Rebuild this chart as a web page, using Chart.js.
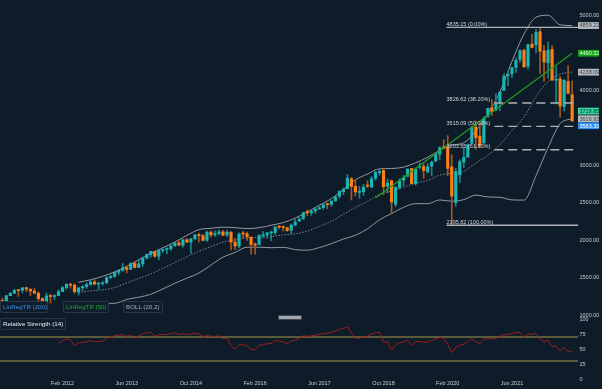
<!DOCTYPE html>
<html><head><meta charset="utf-8">
<script src="https://cdn.jsdelivr.net/npm/chart.js@4/dist/chart.umd.min.js"></script>
<style>
html,body{margin:0;padding:0;background:#0e1c2a;width:602px;height:389px;overflow:hidden;}
#wrap{position:relative;width:602px;height:389px;font-family:"Liberation Sans",Arial,sans-serif;}
canvas{position:absolute;left:0;top:0;}
.lg{position:absolute;box-sizing:border-box;height:12px;line-height:10px;font-size:6.2px;padding-left:2px;border:1px solid #26374a;border-radius:2px;background:#0f1e2d;white-space:nowrap;}
#thumb{position:absolute;left:278px;top:315px;width:22px;height:3px;background:#a3a8ad;border:1px solid #3b4654;box-sizing:content-box;}
</style></head><body>
<div id="wrap">
<canvas id="c" width="602" height="389"></canvas>
<div class="lg" style="left:0;top:301px;width:48px;color:#3a8fe2;">LinRegTR (200)</div>
<div class="lg" style="left:63px;top:301px;width:46px;color:#2aa22a;">LinRegTR (50)</div>
<div class="lg" style="left:123px;top:301px;width:40px;color:#aab0b5;">BOLL (20,2)</div>
<div class="lg" style="left:0;top:318px;width:66px;color:#e9ecef;">Relative Strength (14)</div>
<div id="thumb"></div>
</div>
<script>
// ---- monthly candles, Nov 2010 .. Sep 2022 (index 0..142) ----
const opens = [1185.7,1186.6,1257.6,1289.1,1328.6,1329.5,1365.2,1345.2,1320.6,1292.6,1219.1,1131.2,1251.0,1246.9,1258.9,1312.5,1365.9,1408.5,1397.9,1309.9,
1362.3,1379.3,1406.5,1440.9,1412.2,1416.3,1426.2,1498.1,1514.7,1569.2,1597.6,1631.7,1609.8,1689.4,1635.9,1682.4,1758.7,1806.6,1845.9,1782.7,
1857.7,1873.9,1884.4,1923.9,1962.3,1929.8,2004.1,1971.4,2018.2,2065.8,2058.9,1996.7,2105.2,2067.6,2087.4,2108.6,2067.0,2104.5,1970.1,1919.7,
2080.8,2082.9,2038.2,1936.9,1937.1,2056.6,2067.2,2093.9,2099.3,2173.2,2171.3,2164.3,2128.7,2200.2,2251.6,2285.6,2380.1,2362.3,2388.5,2415.6,
2431.4,2477.1,2474.4,2521.2,2583.2,2645.1,2683.7,2816.5,2715.2,2633.5,2642.9,2718.7,2704.9,2821.2,2896.9,2926.3,2717.6,2790.5,2476.9,2702.3,
2798.2,2848.6,2952.3,2751.5,2971.4,2980.3,2909.0,2983.7,3050.7,3143.9,3244.7,3235.7,2974.3,2498.1,2869.1,3038.8,3105.9,3288.3,3507.4,3385.9,
3296.2,3645.9,3764.6,3731.2,3842.5,3992.8,4191.9,4216.5,4300.7,4406.9,4528.8,4317.2,4610.6,4602.8,4778.1,4519.6,4363.1,4540.3,4130.6,4149.8,
3781.0,4112.4,3936.7];
const highs = [1227.1,1262.6,1302.7,1344.1,1332.3,1364.6,1370.6,1345.2,1356.5,1307.4,1229.3,1292.7,1277.6,1269.4,1333.5,1378.0,1419.2,1422.4,1415.3,1363.5,
1391.7,1426.7,1474.5,1470.9,1434.3,1448.0,1509.9,1530.9,1570.3,1597.6,1687.2,1654.2,1698.8,1709.7,1730.0,1775.2,1813.6,1849.4,1850.8,1867.9,
1883.9,1897.3,1924.0,1968.2,1991.4,2005.0,2019.3,2018.2,2075.8,2093.6,2072.4,2119.6,2117.5,2125.9,2134.7,2129.9,2132.8,2112.7,2021.0,2094.3,
2116.5,2104.3,2038.2,1962.9,2072.2,2111.1,2099.1,2120.6,2177.1,2193.8,2187.9,2169.6,2214.1,2277.5,2300.9,2371.5,2401.0,2398.2,2418.7,2453.8,
2484.0,2490.9,2519.4,2582.0,2657.7,2694.9,2872.9,2835.9,2801.9,2717.5,2742.2,2791.5,2848.0,2916.5,2940.9,2939.9,2815.2,2800.2,2708.9,2813.5,
2860.3,2949.5,2954.1,2964.2,3027.9,3013.6,3021.9,3050.1,3154.3,3247.9,3337.8,3393.5,3136.7,2954.9,3068.7,3233.1,3280.0,3514.8,3588.1,3549.9,
3645.9,3760.2,3870.9,3950.4,3983.9,4218.8,4238.0,4302.4,4429.9,4537.4,4545.9,4608.1,4743.8,4808.9,4835.2,4595.3,4637.3,4593.5,4307.7,4177.5,
4140.2,4325.3,4119.3];
const lows = [1173.0,1186.6,1257.6,1289.1,1249.1,1294.7,1311.8,1258.1,1282.9,1101.5,1114.2,1074.8,1158.7,1202.4,1258.9,1312.5,1340.0,1357.4,1291.0,1266.7,
1325.4,1354.7,1396.6,1403.3,1343.4,1398.1,1426.2,1485.0,1501.5,1536.0,1581.3,1560.3,1604.6,1627.5,1633.4,1646.5,1746.2,1767.9,1770.4,1737.9,
1834.4,1814.4,1859.8,1915.0,1930.7,1904.8,1964.0,1820.7,2001.0,1972.6,1988.1,1980.9,2039.7,2048.4,2067.9,2056.3,2044.0,1867.0,1871.9,1893.7,
2019.4,1993.3,1812.3,1810.1,1937.1,2033.8,2025.9,1991.7,2074.0,2147.6,2119.1,2114.7,2083.8,2187.4,2245.1,2271.7,2322.3,2328.9,2352.7,2405.7,
2407.7,2417.4,2446.6,2520.4,2557.5,2605.5,2682.4,2532.7,2585.9,2553.8,2594.6,2698.7,2698.9,2796.3,2864.1,2603.5,2631.1,2346.6,2443.9,2681.8,
2722.3,2848.6,2750.5,2728.8,2952.2,2822.1,2891.9,2855.9,3050.7,3070.3,3214.6,2855.8,2195.8,2447.5,2766.6,2965.7,3101.2,3284.5,3209.5,3233.9,
3279.7,3633.4,3662.7,3725.6,3723.3,3992.8,4056.9,4164.4,4233.1,4367.7,4305.9,4278.9,4560.0,4495.1,4222.6,4114.7,4157.9,4124.3,3810.3,3636.9,
3721.6,3954.5,3584.1];
const closes = [1180.6,1257.6,1286.1,1327.2,1325.8,1363.6,1345.2,1320.6,1292.3,1218.9,1131.4,1253.3,1247.0,1257.6,1312.4,1365.7,1408.5,1397.9,1310.3,1362.2,
1379.3,1406.6,1440.7,1412.2,1416.2,1426.2,1498.1,1514.7,1569.2,1597.6,1630.7,1606.3,1685.7,1633.0,1681.6,1756.5,1805.8,1848.4,1782.6,1859.5,
1872.3,1883.9,1923.6,1960.2,1930.7,2003.4,1972.3,2018.1,2067.6,2058.9,1995.0,2104.5,2067.9,2085.5,2107.4,2063.1,2103.8,1972.2,1920.0,2079.4,
2080.4,2043.9,1940.2,1932.2,2059.7,2065.3,2096.9,2098.9,2173.6,2170.9,2168.3,2126.2,2198.8,2238.8,2278.9,2363.6,2362.7,2384.2,2411.8,2423.4,
2470.3,2471.7,2519.4,2575.3,2647.6,2673.6,2823.8,2713.8,2640.9,2648.1,2705.3,2718.4,2816.3,2901.5,2913.9,2711.7,2760.2,2506.9,2704.1,2784.5,
2834.4,2945.8,2752.1,2941.8,2980.4,2926.5,2976.7,3037.6,3141.0,3230.8,3225.5,2954.2,2584.6,2912.4,3044.3,3100.3,3271.1,3500.3,3363.0,3269.9,
3621.6,3756.1,3714.2,3811.2,3972.9,4181.2,4204.1,4297.5,4395.3,4522.7,4307.5,4605.4,4567.0,4766.2,4515.6,4373.9,4530.4,4131.9,4132.2,3785.4,
4130.3,3955.0,3585.6];

const xTickIdx = [15,31,47,63,79,95,111,127];
const xTickLabels = ['Feb 2012','Jun 2013','Oct 2014','Feb 2016','Jun 2017','Oct 2018','Feb 2020','Jun 2021'];
const priceTicks = [1000,1500,2000,2500,3000,3500,4000,5000];
const rsiTicks = [0,25,50,75,100];

// Bollinger (20,2), read at every third month
const bollIdx = [19,22,25,28,31,34,37,40,43,46,49,52,55,58,61,64,67,70,73,76,79,82,85,88,91,94,97,100,103,106,109,112,115,118,121,124,127,130,133,136,139,142];
const bollUpper = [1436,1469,1515,1576,1648,1737,1822,1897,1973,2061,2139,2156,2171,2164,2152,2164,2197,2232,2292,2374,2463,2551,2673,2803,2879,2949,2953,2972,3029,3104,3196,3265,3296,3452,3686,3973,4381,4746,4970,4997,4869,4859.22];
const bollMiddle = [1298,1323,1335,1366,1428,1487,1549,1622,1698,1776,1849,1911,1971,1999,2028,2034,2047,2067,2082,2119,2181,2251,2343,2433,2514,2609,2653,2704,2757,2794,2865,2891,2917,3025,3130,3271,3458,3639,3914,4114,4210,4238.09];
const bollLower = [1160,1177,1155,1156,1208,1237,1276,1347,1423,1491,1559,1666,1771,1834,1904,1904,1897,1902,1872,1864,1899,1951,2013,2063,2149,2269,2353,2436,2485,2484,2534,2517,2538,2598,2574,2569,2535,2532,2858,3231,3551,3616.95];

// RSI(14) from month index 14
const rsiFirstIdx = 14;
const rsiValues = [60,64,67,65,56,60,61,62,64,62,
62,63,68,70,72,73,74,71,73,68,
72,75,77,78,71,74,74,74,76,77,
74,76,74,75,76,75,70,73,71,71,
72,67,68,55,50,57,57,55,49,49,
56,57,59,59,64,63,62,59,63,65,
68,72,71,72,73,74,76,76,78,80,
83,84,87,77,68,68,70,71,75,77,
78,61,62,48,57,60,62,65,56,62,
63,61,62,64,67,69,68,58,44,53,
56,58,62,67,62,59,66,68,66,68,
71,74,74,76,77,78,70,75,74,76,
66,62,64,54,55,47,53,45,47];
const rsiLevels = [70,30];

// LinRegTR(50)
const linRegIdx = [93,142];
const linRegValues = [2560,4490.32];

// Fibonacci retracement
const fibLevels = [4835.15,3826.62,3515.09,3203.55,2195.82];
const fibNames = ['4835.15 (0.00%)','3826.62 (38.20%)','3515.09 (50.00%)','3203.55 (61.80%)','2195.82 (100.00%)'];
const fibStartIdx = [110.7,122.6,122.6,122.6,110.7];
const fibDashed = [false,true,true,true,false];

// right-edge value tags
const tagValues = [4859.22,4490.32,4238.09,3718.85,3616.95,3583.30];

// ------------------------------------------------------------
const FONT = '"Liberation Sans", Arial, sans-serif';
const X_MIN = -0.573, X_MAX = 143.46;
const UP = '#1db4b4', DOWN = '#ff7f14', UPW = '#15868b', DOWNW = '#a4571f';
const tagStyle = [
  ['#b6b9bd','#40464c'],['#16a116','#e8ffe8'],['#b6b9bd','#40464c'],
  ['#36d6a0','#0d3527'],['#b6b9bd','#40464c'],['#2e8ff2','#ffffff']
];

const idx = opens.map((_, i) => i);
const isUp = i => closes[i] >= opens[i];

const datasets = [];
// wicks
datasets.push({type:'bar', yAxisID:'y', grouped:false, order:5, barThickness:1, borderWidth:0,
  data: idx.map(i => ({x:i, y:[lows[i], highs[i]]})),
  backgroundColor: c => isUp(c.dataIndex) ? UPW : DOWNW});
// bodies
datasets.push({type:'bar', yAxisID:'y', grouped:false, order:4, barThickness:2.5, borderWidth:0, minBarLength:1,
  data: idx.map(i => ({x:i, y:[opens[i], closes[i]]})),
  backgroundColor: c => isUp(c.dataIndex) ? UP : DOWN});
// bollinger
const bollLine = (vals, color, dash) => ({type:'line', yAxisID:'y', order:6, borderColor:color, borderWidth:1,
  borderDash:dash, pointRadius:0, cubicInterpolationMode:'monotone', fill:false,
  data: bollIdx.map((x, k) => ({x, y: vals[k]}))});
datasets.push(bollLine(bollUpper, '#9399a0', []));
datasets.push(bollLine(bollLower, '#9399a0', []));
datasets.push(bollLine(bollMiddle, '#7f868d', [1.5,1.5]));
// linreg 50
datasets.push({type:'line', yAxisID:'y', order:2, borderColor:'#1f9f1f', borderWidth:1.2, pointRadius:0,
  data: linRegIdx.map((x,k)=>({x, y: linRegValues[k]}))});
// fib lines
fibLevels.forEach((lv,k) => datasets.push({type:'line', yAxisID:'y', order:1, borderColor:'#aeb2b7',
  borderWidth:1.4, borderDash: fibDashed[k] ? [9,5] : [], pointRadius:0,
  data:[{x:fibStartIdx[k], y:lv},{x:X_MAX, y:lv}]}));
// RSI levels
rsiLevels.forEach(lv => datasets.push({type:'line', yAxisID:'yr', order:3, borderColor:'#77713f',
  borderWidth:1.3, pointRadius:0, data:[{x:X_MIN,y:lv},{x:X_MAX,y:lv}]}));
// RSI line
datasets.push({type:'line', yAxisID:'yr', order:1, borderColor:'#9d1d1d', borderWidth:1, pointRadius:0,
  data: rsiValues.map((v,k)=>({x: rsiFirstIdx + k, y: v}))});

const overlay = {
  id:'overlay',
  afterDatasetsDraw(chart){
    const {ctx, scales:{x, y}} = chart;
    ctx.save();
    ctx.font = '5.5px ' + FONT;
    ctx.textAlign = 'left';
    ctx.textBaseline = 'alphabetic';
    ctx.fillStyle = '#d2d5d9';
    fibLevels.forEach((lv,k) => {
      ctx.fillText(fibNames[k], x.getPixelForValue(110.7), y.getPixelForValue(lv) - 1.8);
    });
    // tags
    let last = -1e9;
    const right = chart.chartArea.right;
    tagValues.forEach((v,k) => {
      let cy = y.getPixelForValue(v);
      if (cy < last + 7) cy = last + 7;
      last = cy;
      ctx.fillStyle = tagStyle[k][0];
      ctx.fillRect(right, cy - 3.4, 21, 6.8);
      ctx.fillStyle = tagStyle[k][1];
      ctx.textBaseline = 'middle';
      ctx.fillText(v.toFixed(2), right + 1.5, cy + 0.3);
    });
    ctx.restore();
  }
};

const tickFont = {size:5.5, family:FONT};
const tickColor = '#c8ccd0';
new Chart(document.getElementById('c'), {
  data:{datasets},
  plugins:[overlay],
  options:{
    responsive:false, animation:false, devicePixelRatio:1,
    layout:{padding:0},
    plugins:{legend:{display:false}, tooltip:{enabled:false}},
    scales:{
      x:{type:'linear', min:X_MIN, max:X_MAX, offset:false,
        grid:{display:false, drawTicks:false}, border:{display:false},
        afterBuildTicks: s => { s.ticks = xTickIdx.map(v => ({value:v})); },
        afterFit: s => { s.height = 10; s.paddingLeft = 0; s.paddingRight = 0; },
        ticks:{autoSkip:false, maxRotation:0, padding:1, color:tickColor, font:tickFont,
          callback: v => { const k = xTickIdx.indexOf(v); return k >= 0 ? xTickLabels[k] : ''; }}},
      y:{type:'linear', position:'right', stack:'pane', stackWeight:316, min:986.67, max:5200,
        grid:{display:false, drawTicks:false}, border:{display:false},
        afterBuildTicks: s => { s.ticks = priceTicks.map(v => ({value:v})); },
        afterFit: s => { s.width = 24; s.paddingTop = 0; s.paddingBottom = 0; },
        ticks:{autoSkip:false, padding:1.5, color:tickColor, font:tickFont, callback: v => Number(v).toFixed(2)}},
      yr:{type:'linear', position:'right', stack:'pane', stackWeight:63, min:0, max:105,
        grid:{display:false, drawTicks:false}, border:{display:false},
        afterBuildTicks: s => { s.ticks = rsiTicks.map(v => ({value:v})); },
        afterFit: s => { s.width = 24; s.paddingTop = 0; s.paddingBottom = 0; },
        ticks:{autoSkip:false, padding:1.5, color:tickColor, font:tickFont, callback: v => String(v)}}
    }
  }
});
</script>
</body></html>
